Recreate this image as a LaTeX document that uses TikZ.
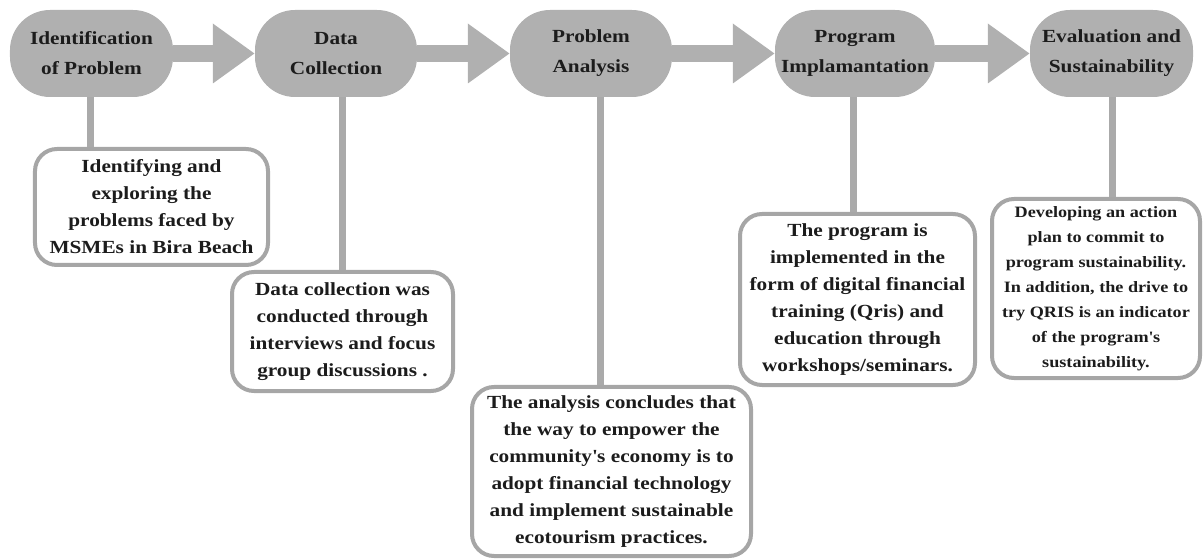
\documentclass[tikz,border=0pt]{standalone}
\usepackage{fontspec}
\setmainfont{Liberation Serif}[FakeStretch=1.15]
\usetikzlibrary{arrows.meta}

\definecolor{pillgray}{RGB}{176,176,176}
\definecolor{linegray}{RGB}{170,170,170}
\definecolor{framegray}{RGB}{166,166,166}
\definecolor{ink}{RGB}{28,28,28}

\tikzset{
  stage/.style={fill=pillgray, rounded corners=40bp, minimum height=87bp,
    inner sep=0pt, align=center, text=ink,
    font={\bfseries\fontsize{18.5bp}{30bp}\selectfont}},
  note/.style={draw=framegray, line width=4bp, fill=white, rounded corners=22bp,
    inner sep=0pt, align=center, text=ink,
    font={\bfseries\fontsize{18.5bp}{27bp}\selectfont}},
  smallnote/.style={note, font={\bfseries\fontsize{15.8bp}{25bp}\selectfont}},
  flow/.style={draw=pillgray, line width=17bp, -{Triangle[width=57bp,length=42bp]}},
  conn/.style={draw=linegray, line width=7bp},
}

\begin{document}
\begin{tikzpicture}[x=1bp, y=-1bp]
  \useasboundingbox (0,0) rectangle (1203,560);

  % stages of the programme
  \node[stage, minimum width=163bp] (p1) at (91.5,53.5) {Identification\\of Problem};
  \node[stage, minimum width=162bp] (p2) at (336,53.5) {Data\\Collection};
  \node[stage, minimum width=162bp] (p3) at (591,53.5) {Problem\\Analysis};
  \node[stage, minimum width=160bp] (p4) at (855,53.5) {Program\\Implamantation};
  \node[stage, minimum width=163bp] (p5) at (1111.5,53.5) {Evaluation and\\Sustainability};

  % arrows between stages
  \draw[flow] (p1.east) -- (p2.west);
  \draw[flow] (p2.east) -- (p3.west);
  \draw[flow] (p3.east) -- (p4.west);
  \draw[flow] (p4.east) -- (p5.west);

  % description boxes
  \node[note, minimum width=233bp, minimum height=116bp] (b1) at (151.5,207)
    {Identifying and\\exploring the\\problems faced by\\MSMEs in Bira Beach};
  \node[note, minimum width=221bp, minimum height=119bp] (b2) at (342.5,331.5)
    {Data collection was\\conducted through\\interviews and focus\\group discussions .};
  \node[note, minimum width=279bp, minimum height=169bp] (b3) at (611.5,471.5)
    {The analysis concludes that\\the way to empower the\\community\textquotesingle s economy is to\\adopt financial technology\\and implement sustainable\\ecotourism practices.};
  \node[note, minimum width=235bp, minimum height=171bp] (b4) at (857.5,299.5)
    {The program is\\implemented in the\\form of digital financial\\training (Qris) and\\education through\\workshops/seminars.};
  \node[smallnote, minimum width=208bp, minimum height=179bp] (b5) at (1096,288.5)
    {Developing an action\\plan to commit to\\program sustainability.\\In addition, the drive to\\try QRIS is an indicator\\of the program\textquotesingle s\\sustainability.};

  % links from stages down to their boxes
  \draw[conn] ([xshift=-1.5bp]p1.south) -- ([xshift=-1.5bp]p1.south |- b1.north);
  \draw[conn] ([xshift=6bp]p2.south) -- ([xshift=6bp]p2.south |- b2.north);
  \draw[conn] ([xshift=9bp]p3.south) -- ([xshift=9bp]p3.south |- b3.north);
  \draw[conn] ([xshift=-2bp]p4.south) -- ([xshift=-2bp]p4.south |- b4.north);
  \draw[conn] ([xshift=0.5bp]p5.south) -- ([xshift=0.5bp]p5.south |- b5.north);
\end{tikzpicture}
\end{document}
